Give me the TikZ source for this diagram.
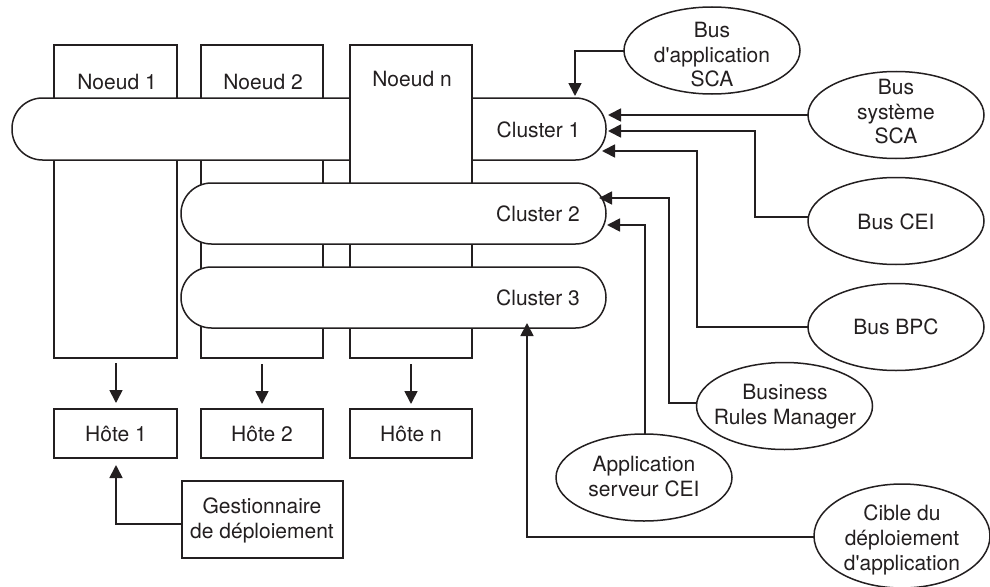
\documentclass[tikz,border=0pt]{standalone}
\usepackage{fontspec}
\newfontfamily\hvfont{TeX Gyre Heros}
\usetikzlibrary{shapes.geometric,arrows.meta}
\definecolor{ink}{HTML}{231F20}
\tikzset{
  every node/.style={outer sep=0pt},
  shp/.style={draw=ink,line width=1.5pt,fill=white,inner sep=0pt},
  boxn/.style={shp,rectangle},
  pill/.style={shp,rectangle,rounded corners=30.5pt},
  oval/.style={shp,ellipse,minimum width=176pt,minimum height=87pt},
  txt/.style={font=\hvfont\fontsize{21}{24.8}\selectfont,text=ink,align=center,inner sep=0pt,anchor=north},
  conn/.style={draw=ink,line width=1.7pt,-{Triangle[length=13pt,width=13pt]}}
}
\begin{document}
\begin{tikzpicture}[x=1pt,y=-1pt]
\useasboundingbox (0,0) rectangle (990,586);
\fill[white] (0,0) rectangle (990,586);
% nodes behind cluster 1
\node[boxn,minimum width=123pt,minimum height=313pt] (n1) at (115.5,201.5) {};
\node[boxn,minimum width=122pt,minimum height=313pt] (n2) at (262,201.5) {};
\node[pill,minimum width=594pt,minimum height=62pt] (c1) at (309,129) {};
\node[boxn,minimum width=122pt,minimum height=313pt] (nn) at (411,201.5) {};
\node[pill,minimum width=425pt,minimum height=61pt] (c2) at (393.5,213.5) {};
\node[pill,minimum width=425pt,minimum height=61pt] (c3) at (393.5,297.5) {};
% hosts
\node[boxn,minimum width=123pt,minimum height=49pt] (h1) at (115.5,433.5) {};
\node[boxn,minimum width=122pt,minimum height=49pt] (h2) at (262,433.5) {};
\node[boxn,minimum width=122pt,minimum height=49pt] (hn) at (411,433.5) {};
\node[boxn,minimum width=161pt,minimum height=77pt] (gd) at (262.5,519.5) {};
% ovals
\node[oval] (e1) at (712,50.5) {};
\node[oval] (e2) at (896,115) {};
\node[oval] (e3) at (896,221) {};
\node[oval] (e4) at (896,327) {};
\node[oval] (e5) at (784.5,406) {};
\node[oval] (e6) at (644,477.5) {};
\node[oval,minimum height=104pt] (e7) at (902,536) {};
% texts
\node[txt] (n1t) at (117,74) {Noeud 1};
\node[txt] (n2t) at (263,74) {Noeud 2};
\node[txt] (nnt) at (412,71) {Noeud n};
\node[txt] (c1t) at (538.5,122) {Cluster 1};
\node[txt] (c2t) at (538,206) {Cluster 2};
\node[txt] (c3t) at (538,290) {Cluster 3};
\node[txt] (h1t) at (116,426) {Hôte 1};
\node[txt] (h2t) at (262,426) {Hôte 2};
\node[txt] (hnt) at (411,426) {Hôte n};
\node[txt] (gdt) at (262,498) {Gestionnaire\\de déploiement};
\node[txt] (e1t) at (712,22) {Bus\\d'application\\SCA};
\node[txt] (e2t) at (896,79) {Bus\\système\\SCA};
\node[txt] (e3t) at (896,214) {Bus CEI};
\node[txt] (e4t) at (896,319) {Bus BPC};
\node[txt] (e5t) at (785,384) {Business\\Rules Manager};
\node[txt] (e6t) at (644,456) {Application\\serveur CEI};
\node[txt] (e7t) at (902,505) {Cible du\\déploiement\\d'application};
% connector ends
\coordinate (t1) at (575,96);
\coordinate (t2) at (608,115);
\coordinate (t3) at (608,131);
\coordinate (t4) at (602,151);
\coordinate (t5) at (599,198);
\coordinate (t6) at (607,225);
\coordinate (t7) at (527,323);
\coordinate (s0) at (624,51);
\coordinate (s1) at (116,363);
\coordinate (d1) at (116,403);
\coordinate (s2) at (262,364);
\coordinate (d2) at (262,404);
\coordinate (sn) at (411,364);
\coordinate (dn) at (411,404);
\coordinate (th) at (116,465);
\coordinate (sgd) at (182,524);
\coordinate (s3) at (808,217);
\coordinate (s5) at (697,403);
\coordinate (s6) at (645,434);
\coordinate (s7) at (814,537);
% connectors
\draw[conn] (s0) -| (t1);
\draw[conn] (e2.west) -- (t2);
\draw[conn] (s3) -- (755,217) |- (t3);
\draw[conn] (e4.west) -- (697,327) |- (t4);
\draw[conn] (s5) -- (669,403) |- (t5);
\draw[conn] (s6) |- (t6);
\draw[conn] (s7) -| (t7);
\draw[conn] (s1) -- (d1);
\draw[conn] (s2) -- (d2);
\draw[conn] (sn) -- (dn);
\draw[conn] (sgd) -| (th);
\end{tikzpicture}
\end{document}
